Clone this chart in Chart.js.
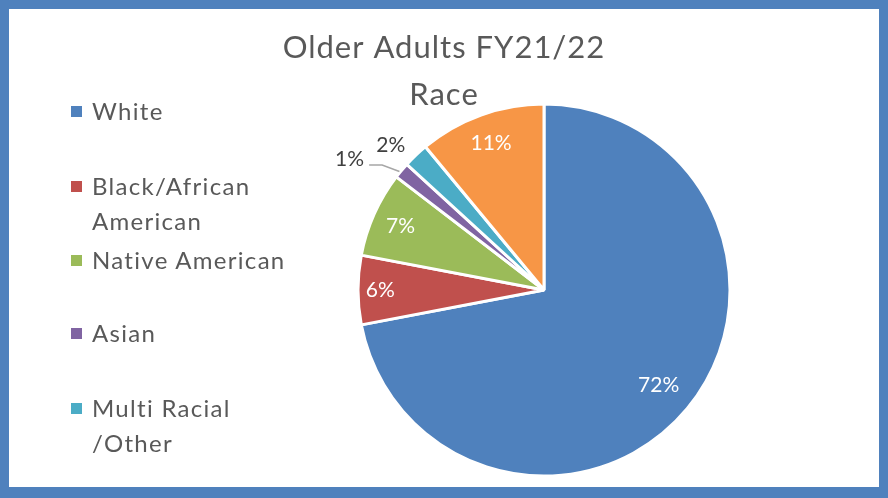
<!DOCTYPE html>
<html>
<head>
<meta charset="utf-8">
<script src="https://cdn.jsdelivr.net/npm/chart.js@4.4.0/dist/chart.umd.min.js"></script>
<style>
  body { margin: 0; background: #fff; }
  #wrap { position: relative; width: 888px; height: 498px; }
  #frame { position: absolute; left: 0; top: 0; width: 888px; height: 498px; box-sizing: border-box;
    border: 9px solid #4F81BD; border-bottom-width: 11px; background: #fff; }
  #chart { position: absolute; left: 0; top: 0; }
  #legend { position: absolute; left: 0; top: 0; font-family: Lato, sans-serif; font-size: 24px;
    letter-spacing: 1.3px; color: #595959; }
  .item { position: absolute; left: 71px; line-height: 35px; white-space: nowrap; }
  .item i { position: absolute; left: 0; top: 13px; width: 11px; height: 11px; }
  .item span { position: absolute; left: 21px; top: 0; }
</style>
</head>
<body>
<div id="wrap">
  <div id="frame"></div>
  <canvas id="chart" width="888" height="498"></canvas>
  <div id="legend"></div>
</div>
<script>
const titleLines = ['Older Adults FY21/22', 'Race'];
const categories = ['White', 'Black/African American', 'Native American', 'Asian', 'Multi Racial /Other', 'Hispanic/Latino'];
const legendLines = [['White'], ['Black/African', 'American'], ['Native American'], ['Asian'], ['Multi Racial', '/Other']];
const values = [72.0, 6.0, 7.4, 1.4, 2.2, 11.0];
const colors = ['#4F81BD', '#C0504D', '#9BBB59', '#8064A2', '#4BACC6', '#F79646'];

// label placement per slice: radius factor, angle shift (deg), leader line
const labelPos = [
  { r: 0.80 }, { r: 0.88 }, { r: 0.845 },
  { r: 1.26, da: -6, leader: true, out: true },
  { r: 1.135, da: -3, out: true },
  { r: 0.84 }
];
const legendTop = [110, 185, 259, 332, 407];

const $ = id => document.getElementById(id);

legendLines.forEach((lines, i) => {
  const d = document.createElement('div');
  d.className = 'item';
  d.style.top = (legendTop[i] - 17.5) + 'px';
  d.innerHTML = `<i style="background:${colors[i]}"></i><span>${lines.join('<br>')}</span>`;
  $('legend').appendChild(d);
});

// title spans the whole canvas even though the pie is pushed right
const centerTitle = {
  id: 'centerTitle',
  afterLayout(chart) {
    const t = chart.titleBlock;
    t.left = 0; t.right = chart.width; t.width = chart.width;
  },
  beforeDraw(chart) { chart.ctx.letterSpacing = '1px'; }
};

const pctLabels = {
  id: 'pctLabels',
  afterDatasetsDraw(chart) {
    const ctx = chart.ctx;
    const total = values.reduce((a, b) => a + b, 0);
    ctx.save();
    ctx.letterSpacing = '0px';
    ctx.font = '21px Lato';
    ctx.textAlign = 'center';
    ctx.textBaseline = 'middle';
    chart.getDatasetMeta(0).data.forEach((arc, i) => {
      const { x, y, startAngle, endAngle, outerRadius } = arc.getProps(['x', 'y', 'startAngle', 'endAngle', 'outerRadius'], true);
      const p = labelPos[i];
      const mid = (startAngle + endAngle) / 2;
      const a = mid + (p.da || 0) * Math.PI / 180;
      const lx = x + Math.cos(a) * outerRadius * p.r;
      const ly = y + Math.sin(a) * outerRadius * p.r;
      const txt = Math.round(values[i] / total * 100) + '%';
      if (p.leader) {
        const w = ctx.measureText(txt).width;
        const ex = x + Math.cos(mid) * outerRadius, ey = y + Math.sin(mid) * outerRadius;
        ctx.strokeStyle = '#A6A6A6';
        ctx.lineWidth = 1.5;
        ctx.beginPath();
        ctx.moveTo(lx + w / 2 + 5, ly + 6);
        ctx.lineTo(lx + w / 2 + 18, ly + 6);
        ctx.lineTo(ex - 2, ey + 1);
        ctx.stroke();
      }
      ctx.fillStyle = p.out ? '#404040' : '#fff';
      ctx.fillText(txt, lx, ly);
    });
    ctx.restore();
  }
};

new Chart($('chart').getContext('2d'), {
  type: 'pie',
  data: {
    labels: categories,
    datasets: [{ data: values, backgroundColor: colors, borderColor: '#fff', borderWidth: 3 }]
  },
  options: {
    responsive: false,
    animation: false,
    radius: 186,
    layout: { padding: { left: 220, right: 20, top: 0, bottom: 36.5 } },
    plugins: {
      legend: { display: false },
      tooltip: { enabled: false },
      title: {
        display: true,
        text: titleLines,
        color: '#595959',
        font: { family: 'Lato', size: 31, weight: 'normal', lineHeight: '47px' },
        padding: { top: 24.5, bottom: 0 }
      }
    }
  },
  plugins: [centerTitle, pctLabels]
});
</script>
</body>
</html>
